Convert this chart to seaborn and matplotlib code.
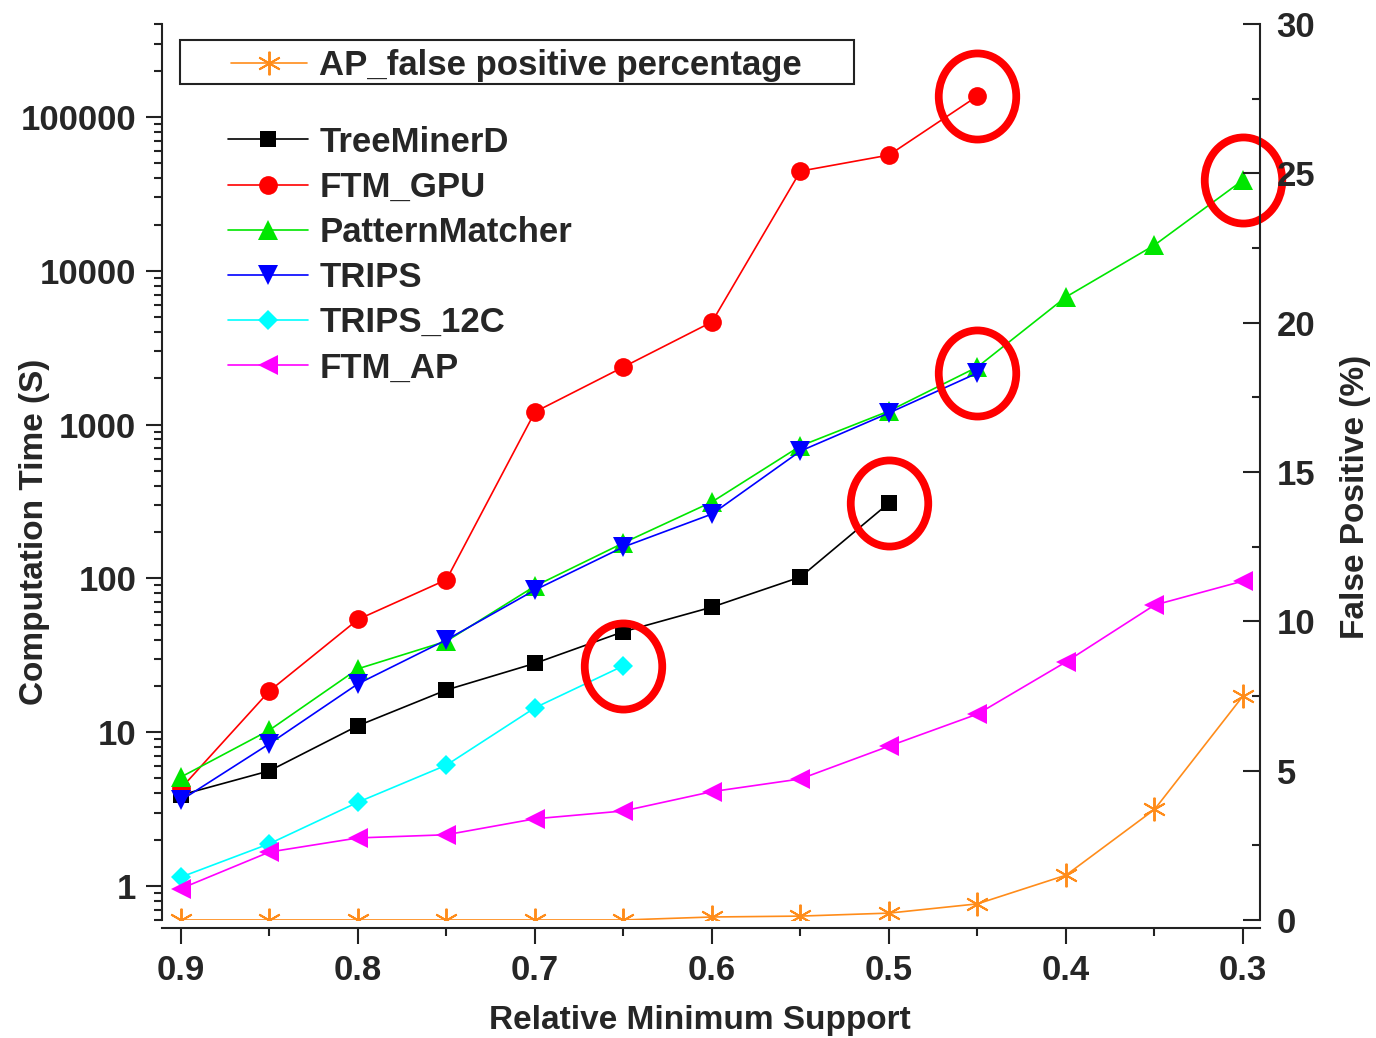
import matplotlib
matplotlib.use("Agg")
import matplotlib.pyplot as plt
import seaborn as sns
from matplotlib.path import Path
from matplotlib.patches import Rectangle
from matplotlib.ticker import LogLocator, MultipleLocator, NullFormatter

# Relative minimum support (x axis, drawn from 0.9 down to 0.3)
support = [0.9, 0.85, 0.8, 0.75, 0.7, 0.65, 0.6, 0.55, 0.5, 0.45, 0.4, 0.35, 0.3]

# Computation time (s), left log axis
treeminerd = [3.9, 5.6, 11, 18.8, 28, 45, 65, 102, 309]
ftm_gpu = [4.3, 18.5, 54, 98, 1208, 2370, 4650, 44500, 56600, 137000]
pattern_matcher = [5.1, 10.3, 25.8, 39, 89, 170, 314, 726, 1225, 2370, 6760, 14700, 38900]
trips = [3.6, 8.4, 20.6, 39.8, 84, 160, 262, 673, 1190, 2165]
trips_12c = [1.14, 1.88, 3.5, 6.1, 14.4, 27]
ftm_ap = [0.96, 1.66, 2.05, 2.15, 2.73, 3.07, 4.1, 4.96, 8.1, 13.1, 28.6, 67, 96]

# False positive percentage, right axis
ap_false_positive = [0, 0, 0, 0, 0, 0, 0.1, 0.13, 0.23, 0.54, 1.5, 3.7, 7.5]

x_major = [0.9, 0.8, 0.7, 0.6, 0.5, 0.4, 0.3]
x_labels = ["0.9", "0.8", "0.7", "0.6", "0.5", "0.4", "0.3"]
y_major = [1, 10, 100, 1000, 10000, 100000]
y_labels = ["1", "10", "100", "1000", "10000", "100000"]
fp_major = [0, 5, 10, 15, 20, 25, 30]
fp_labels = ["0", "5", "10", "15", "20", "25", "30"]

# series that were circled in the figure (last point gets a red ring)
circled = ["TreeMinerD", "FTM_GPU", "PatternMatcher", "TRIPS", "TRIPS_12C"]

sns.set_theme(style="ticks")
plt.rcParams["font.family"] = ["Liberation Sans", "DejaVu Sans"]
plt.rcParams["font.weight"] = "bold"
plt.rcParams["axes.labelweight"] = "bold"

FS = 25
fig = plt.figure(figsize=(13.76, 10.38), dpi=100)
ax = fig.add_axes([0.1177, 0.1137, 0.798, 0.8632])

series = [
    ("TreeMinerD", treeminerd, "black", "s", 11.5),
    ("FTM_GPU", ftm_gpu, "#ff0000", "o", 13.5),
    ("PatternMatcher", pattern_matcher, "#00e600", "^", 14.5),
    ("TRIPS", trips, "#0000ff", "v", 14.5),
    ("TRIPS_12C", trips_12c, "#00ffff", "D", 10.5),
    ("FTM_AP", ftm_ap, "#ff00ff", "<", 14.5),
]
for name, vals, col, mk, ms in series:
    sns.lineplot(x=support[:len(vals)], y=vals, ax=ax, color=col, marker=mk,
                 markersize=ms, markeredgewidth=0, linewidth=1.2, label=name)

ax.set_yscale("log")
ax.set_ylim(0.6, 403000)
ax.set_xlim(0.9107, 0.2904)

ax2 = ax.twinx()
sns.lineplot(x=support, y=ap_false_positive, ax=ax2, color="#ff8c1a",
             marker=(6, 2, 0), markersize=17, markeredgewidth=1.4,
             markeredgecolor="#ff8c1a", linewidth=1.2,
             label="AP_false positive percentage")
ax2.set_ylim(0, 30)
ax2.set_xlim(0.9107, 0.2904)

# red rings around the last point of some series
ring = Path.unit_circle().transformed(matplotlib.transforms.Affine2D().scale(0.9, 1.0))
for name, vals, col, mk, ms in series:
    if name in circled:
        ax.plot([support[len(vals) - 1]], [vals[-1]], linestyle="none", marker=ring,
                markersize=62, markerfacecolor="none", markeredgecolor="#ff0000",
                markeredgewidth=5.6, clip_on=False, zorder=10)

# axes styling
for a in (ax, ax2):
    a.spines["top"].set_visible(False)
    a.grid(False)
ax.spines["right"].set_visible(False)
ax2.spines["left"].set_visible(False)
ax2.spines["bottom"].set_visible(False)
ax.spines["bottom"].set_position(("outward", 5.8))
for sp in ("left", "bottom"):
    ax.spines[sp].set_linewidth(1.5)
    ax.spines[sp].set_color("#222222")
ax2.spines["right"].set_linewidth(1.5)
ax2.spines["right"].set_color("#222222")

ax.set_xticks(x_major)
ax.set_xticklabels(x_labels)
ax.set_xticks(support, minor=True)
ax.set_yticks(y_major)
ax.set_yticklabels(y_labels)
ax.yaxis.set_minor_locator(LogLocator(base=10, subs=range(2, 10)))
ax.yaxis.set_minor_formatter(NullFormatter())
ax2.set_yticks(fp_major)
ax2.set_yticklabels(fp_labels)
ax2.yaxis.set_minor_locator(MultipleLocator(2.5))

ax.tick_params(axis="both", which="major", direction="out", length=11.5, width=1.5,
               pad=7, labelsize=FS, color="#222222")
ax.tick_params(axis="both", which="minor", direction="out", length=6, width=1.5,
               color="#222222")
ax2.tick_params(axis="y", which="major", direction="in", length=12, width=1.5,
                pad=12, labelsize=FS, color="#222222")
ax2.tick_params(axis="y", which="minor", direction="in", length=6, width=1.5,
                color="#222222")

ax.set_xlabel("Relative Minimum Support", fontsize=24, fontweight="bold")
ax.xaxis.set_label_coords(0.49, -0.095)
ax.set_ylabel("Computation Time (S)", fontsize=24, fontweight="bold")
ax.yaxis.set_label_coords(-0.102, 0.433)
ax2.set_ylabel("False Positive (%)", fontsize=24, fontweight="bold", rotation=90)
ax2.yaxis.set_label_coords(1.0729, 0.472)

# legends
h, l = ax.get_legend_handles_labels()
ax.legend(h, l, loc="upper left", bbox_to_anchor=(0.060, 0.8866), frameon=False,
          fontsize=FS, borderpad=0, borderaxespad=0, handlelength=2.3,
          handletextpad=0.35, labelspacing=0.35)
h2, l2 = ax2.get_legend_handles_labels()
ax2.legend(h2, l2, loc="upper left", bbox_to_anchor=(0.0628, 0.9717), frameon=False,
           fontsize=FS, borderpad=0, borderaxespad=0, handlelength=2.2,
           handletextpad=0.35)
ax2.add_patch(Rectangle((0.0164, 0.9330), 0.6138, 0.0491, transform=ax2.transAxes,
                        fill=False, edgecolor="#222222", linewidth=1.5, clip_on=False))

plt.savefig("out.png", dpi=100)
